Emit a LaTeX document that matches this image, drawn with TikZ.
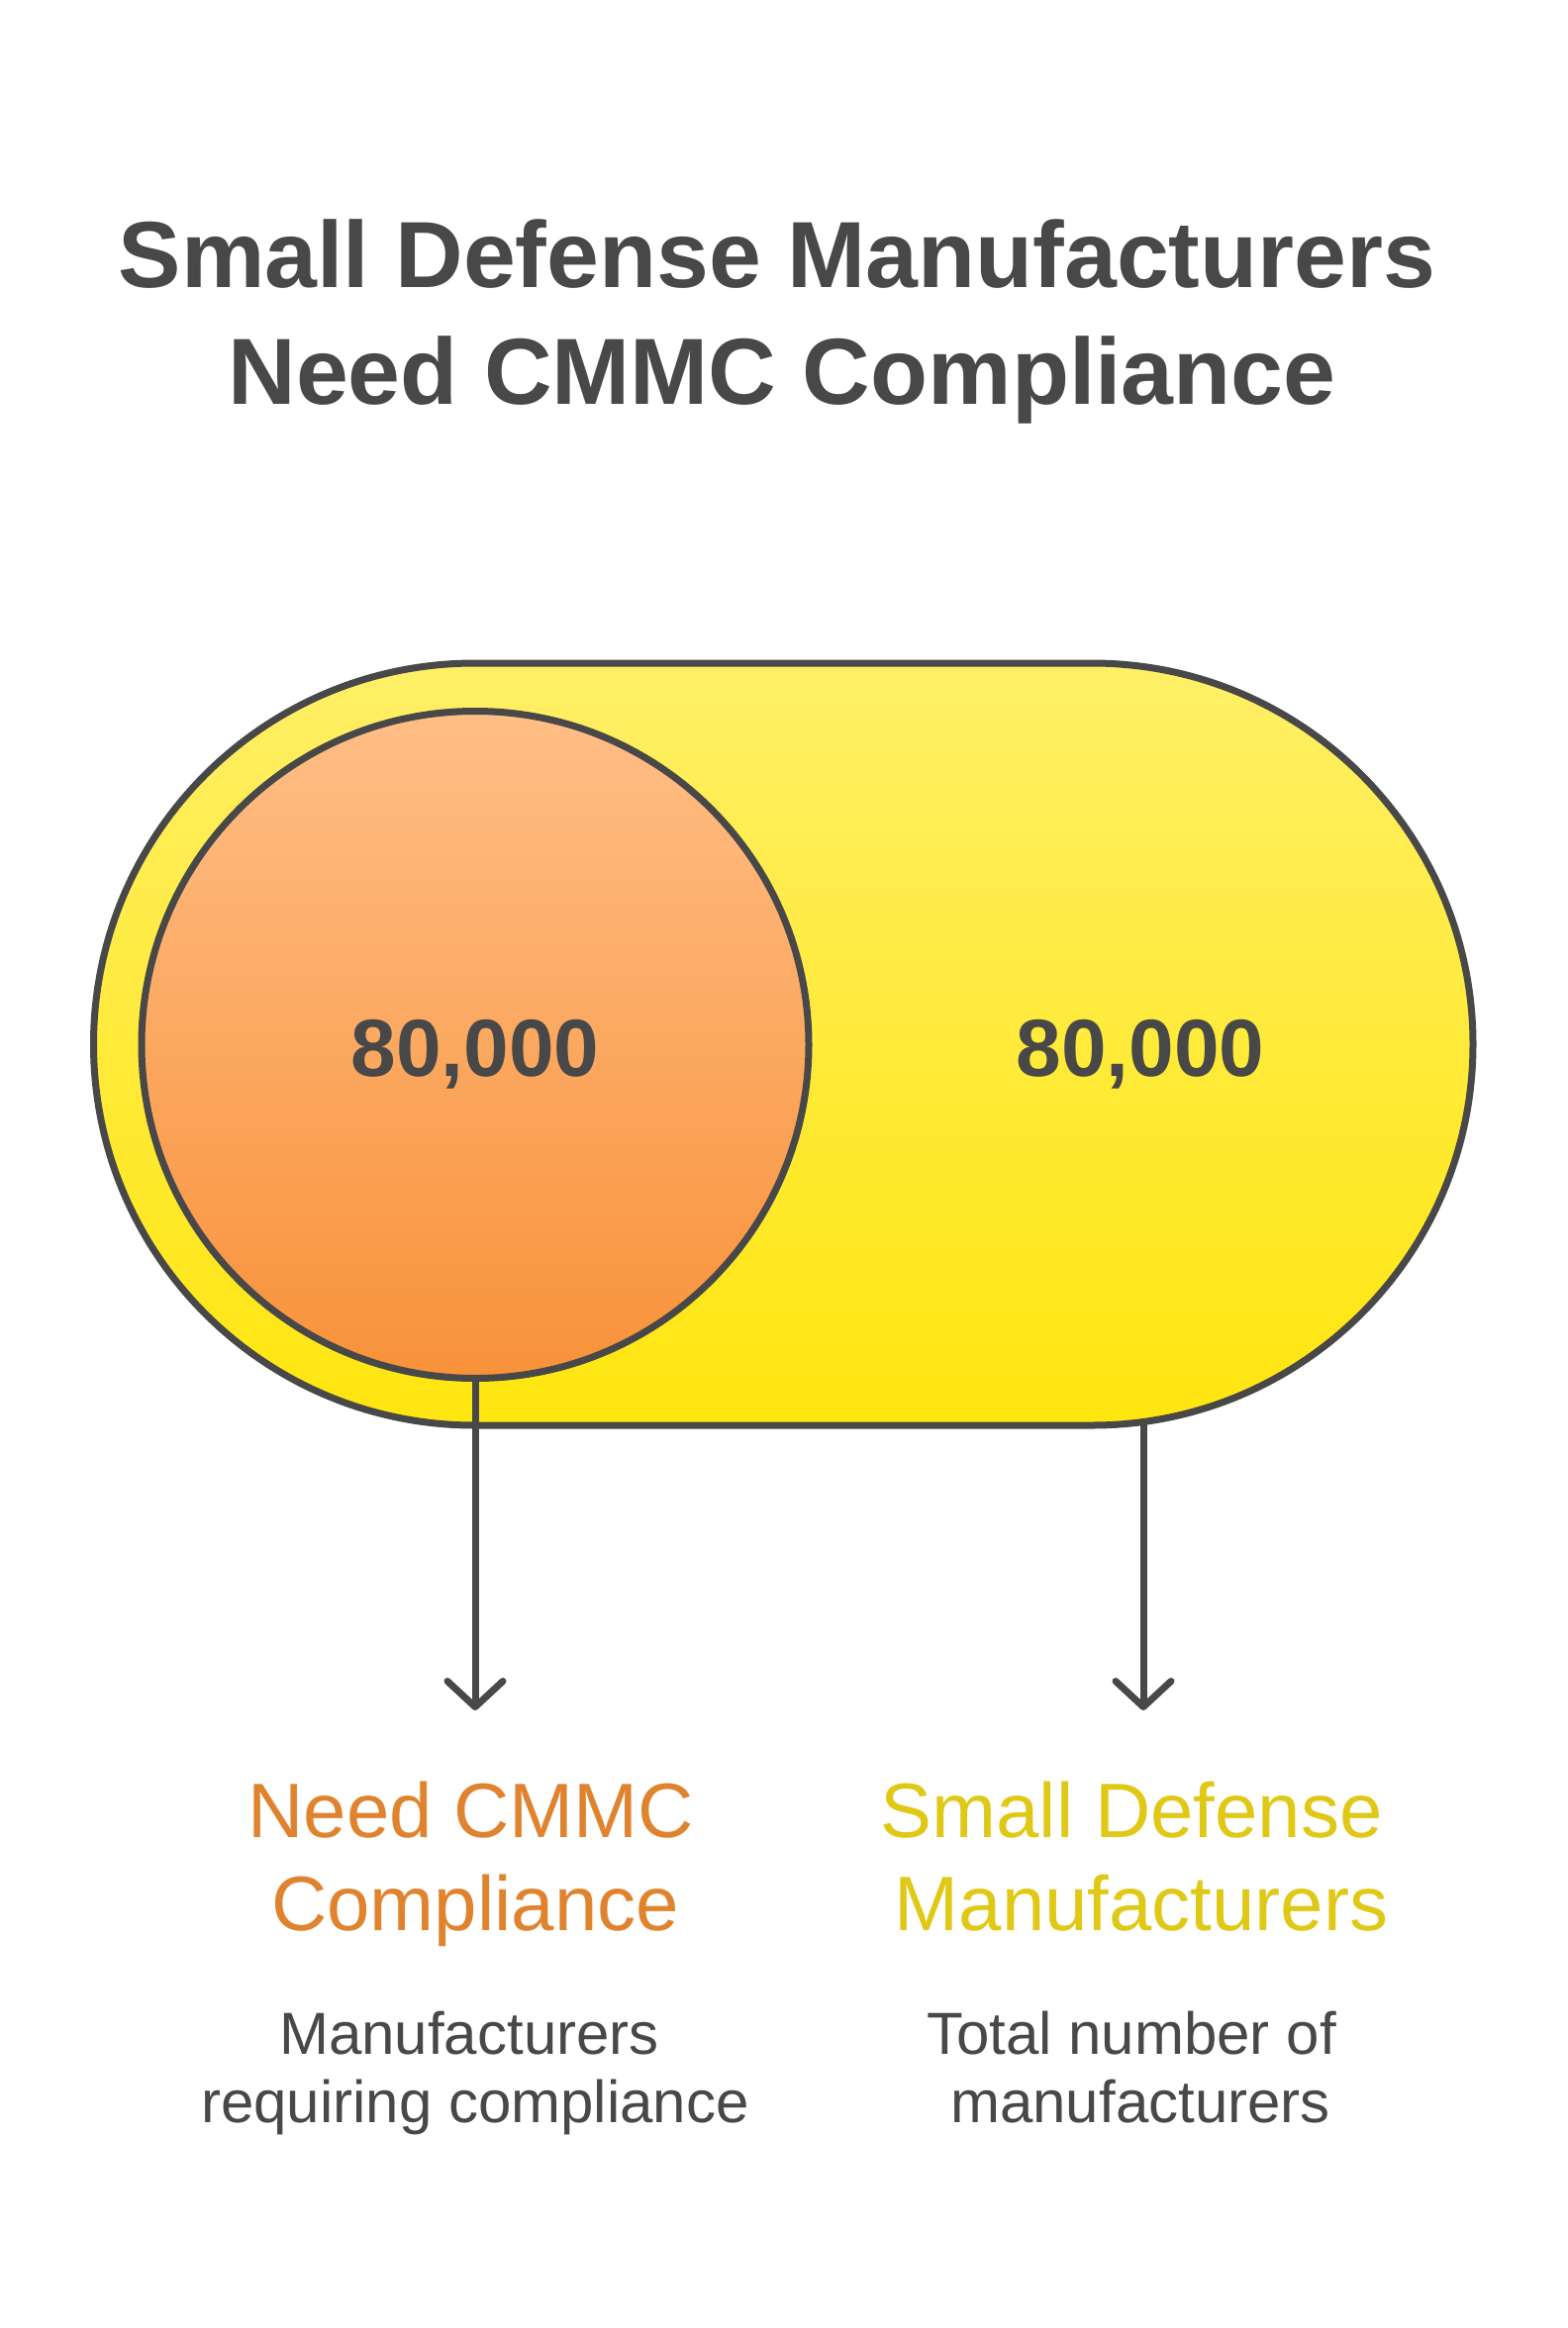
\documentclass[tikz,border=0pt]{standalone}
\usepackage{fontspec}
\setmainfont{Liberation Sans}
\usetikzlibrary{arrows.meta}
\definecolor{ink}{HTML}{484848}
\definecolor{ytop}{HTML}{FFEF66}
\definecolor{ybot}{HTML}{FFE60F}
\definecolor{otop}{HTML}{FFBE86}
\definecolor{obot}{HTML}{F8923A}
\definecolor{lorange}{HTML}{E0832F}
\definecolor{lyellow}{HTML}{E0C817}
\tikzset{
  title/.style={font=\fontsize{95}{110}\selectfont\bfseries, text=ink, anchor=base, inner sep=0},
  num/.style={font=\fontsize{82}{90}\selectfont\bfseries, text=ink, anchor=base, inner sep=0},
  lab/.style={font=\fontsize{78}{90}\selectfont, anchor=base, inner sep=0},
  desc/.style={font=\fontsize{60}{70}\selectfont, text=ink, anchor=base, inner sep=0},
  conn/.style={draw=ink, line width=7pt, -{Straight Barb[length=26pt,width=56pt,round]}},
}
\begin{document}
\begin{tikzpicture}[x=1pt,y=-1pt]
\useasboundingbox (0,0) rectangle (1584,2352);
% title
\node[title] (t1) at (785,290) {Small Defense Manufacturers};
\node[title] (t2) at (790,408) {Need CMMC Compliance};
% stadium
\node[draw=ink, line width=7pt, rounded corners=385pt, top color=ytop, bottom color=ybot,
      minimum width=1393.5pt, minimum height=770pt, inner sep=0] (stad) at (791.25,1055) {};
% circle
\node[draw=ink, line width=7pt, circle, top color=otop, bottom color=obot,
      minimum size=674pt, inner sep=0] (orange) at (480,1055.5) {};
\node[num] (n1) at (480,1087) {80,000};
\node[num] (n2) at (1152,1087) {80,000};
% arrows
\coordinate (rs) at (1155,1437);
\coordinate (le) at (480,1728);
\coordinate (re) at (1155,1728);
\draw[conn] (orange.south) -- (le);
\draw[conn] (rs) -- (re);
% labels
\node[lab, text=lorange] (l1a) at (476,1856) {Need CMMC};
\node[lab, text=lorange] (l1b) at (480,1950) {Compliance};
\node[lab, text=lyellow] (l2a) at (1143,1856) {Small Defense};
\node[lab, text=lyellow] (l2b) at (1153,1950) {Manufacturers};
% descriptions
\node[desc] (d1a) at (474,2075) {Manufacturers};
\node[desc] (d1b) at (480,2144) {requiring compliance};
\node[desc] (d2a) at (1143,2075) {Total number of};
\node[desc] (d2b) at (1152,2144) {manufacturers};
\end{tikzpicture}
\end{document}
